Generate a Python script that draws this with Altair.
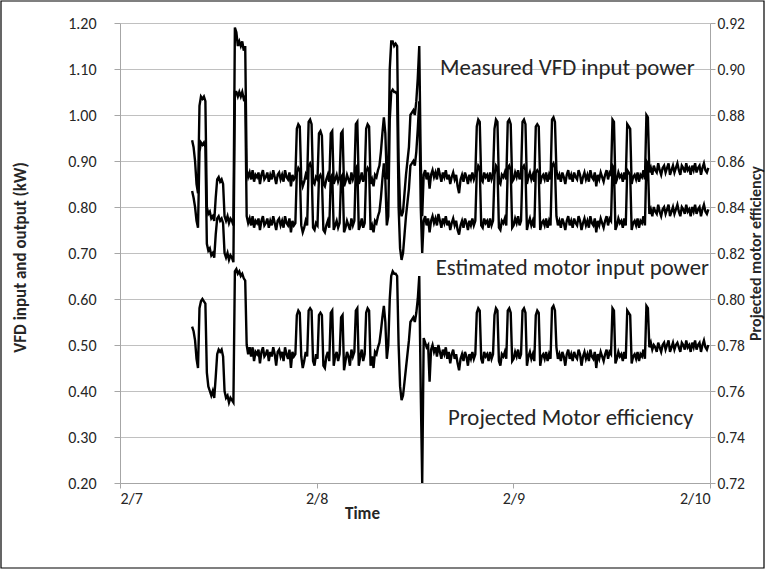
import altair as alt
import pandas as pd

# sampling grid of the logged data (hours after 2/7 00:00)
start_hour = 8.8
step_hour = 0.18

measured = [
    0.945, 0.93, 0.90, 0.85, 0.83, 1.02, 1.04, 1.035, 1.04, 1.03,
    0.80, 0.785, 0.79, 0.775, 0.78, 0.77, 0.82, 0.86, 0.865, 0.855,
    0.86, 0.85, 0.78, 0.77, 0.78, 0.765, 0.775, 0.77, 0.76, 1.19,
    1.18, 1.15, 1.16, 1.15, 1.16, 1.14, 1.15, 0.88, 0.865, 0.875,
    0.86, 0.88, 0.855, 0.87, 0.865, 0.875, 0.85, 0.87, 0.88, 0.86,
    0.865, 0.875, 0.855, 0.87, 0.86, 0.88, 0.865, 0.85, 0.87, 0.875,
    0.86, 0.87, 0.855, 0.88, 0.865, 0.86, 0.875, 0.845, 0.87, 0.86,
    0.865, 0.97, 0.98, 0.975, 0.86, 0.845, 0.855, 0.87, 0.86, 0.985,
    0.99, 0.98, 0.855, 0.85, 0.865, 0.86, 0.96, 0.965, 0.955, 0.85,
    0.845, 0.86, 0.87, 0.855, 0.96, 0.965, 0.85, 0.86, 0.87, 0.855,
    0.865, 0.96, 0.965, 0.845, 0.855, 0.87, 0.86, 0.85, 0.875, 0.86,
    0.87, 0.98, 0.985, 0.85, 0.86, 0.875, 0.855, 0.865, 0.97, 0.98,
    0.975, 0.85, 0.86, 0.845, 0.87, 0.865, 0.88, 0.89, 0.92, 0.96,
    0.995, 0.96, 0.86, 0.88, 1.10, 1.16, 1.16, 1.15, 1.155, 1.15,
    0.90, 0.80, 0.78, 0.79, 0.83, 0.87, 0.90, 0.93, 1.00, 1.005,
    1.01, 1.00, 1.03, 1.08, 1.15, 0.90, 0.78, 0.87, 0.88, 0.86,
    0.875, 0.84, 0.87, 0.88, 0.865, 0.875, 0.86, 0.885, 0.87, 0.855,
    0.875, 0.865, 0.88, 0.86, 0.87, 0.85, 0.865, 0.875, 0.86, 0.87,
    0.845, 0.83, 0.86, 0.87, 0.855, 0.875, 0.865, 0.85, 0.87, 0.86,
    0.875, 0.86, 0.87, 0.975, 0.99, 0.985, 0.86, 0.855, 0.875, 0.865,
    0.87, 0.855, 0.875, 0.86, 0.87, 0.97, 0.99, 0.985, 0.855, 0.85,
    0.87, 0.865, 0.875, 0.86, 0.985, 0.99, 0.98, 0.855, 0.86, 0.875,
    0.865, 0.88, 0.86, 0.87, 0.985, 0.99, 0.98, 0.85, 0.865, 0.875,
    0.86, 0.87, 0.855, 0.975, 0.98, 0.975, 0.85, 0.865, 0.87, 0.86,
    0.875, 0.855, 0.87, 0.86, 0.99, 0.995, 0.985, 0.88, 0.86, 0.87,
    0.855, 0.875, 0.865, 0.85, 0.87, 0.88, 0.86, 0.87, 0.855, 0.875,
    0.865, 0.86, 0.88, 0.87, 0.85, 0.865, 0.875, 0.86, 0.87, 0.855,
    0.88, 0.865, 0.86, 0.875, 0.845, 0.87, 0.86, 0.875, 0.865, 0.855,
    0.87, 0.88, 0.86, 0.875, 0.87, 0.99, 0.985, 0.85, 0.86, 0.875,
    0.865, 0.87, 0.855, 0.875, 0.86, 0.98, 0.975, 0.97, 0.85, 0.865,
    0.87, 0.86, 0.875, 0.855, 0.87, 0.865, 0.88, 0.86, 1.00, 0.995,
    0.875, 0.885, 0.87, 0.89, 0.88, 0.875, 0.895, 0.88, 0.87, 0.885,
    0.89, 0.875, 0.885, 0.895, 0.87, 0.88, 0.89, 0.875, 0.885, 0.895,
    0.88, 0.87, 0.89, 0.885, 0.875, 0.895, 0.88, 0.885, 0.87, 0.89,
    0.88, 0.895, 0.875, 0.885, 0.89, 0.87, 0.885, 0.895, 0.88, 0.875,
    0.885,
]

estimated = [
    0.835, 0.82, 0.80, 0.77, 0.755, 0.92, 0.94, 0.935, 0.94, 0.93,
    0.72, 0.705, 0.71, 0.695, 0.70, 0.69, 0.74, 0.775, 0.78, 0.77,
    0.775, 0.765, 0.70, 0.69, 0.70, 0.685, 0.695, 0.69, 0.68, 1.05,
    1.05, 1.04, 1.05, 1.04, 1.05, 1.035, 1.04, 0.78, 0.765, 0.775,
    0.76, 0.78, 0.755, 0.77, 0.765, 0.775, 0.75, 0.77, 0.78, 0.76,
    0.765, 0.775, 0.755, 0.77, 0.76, 0.78, 0.765, 0.75, 0.77, 0.775,
    0.76, 0.77, 0.755, 0.78, 0.765, 0.76, 0.775, 0.745, 0.77, 0.76,
    0.765, 0.875, 0.885, 0.88, 0.76, 0.745, 0.755, 0.77, 0.76, 0.89,
    0.895, 0.885, 0.755, 0.75, 0.765, 0.76, 0.865, 0.87, 0.86, 0.75,
    0.745, 0.76, 0.77, 0.755, 0.865, 0.87, 0.75, 0.76, 0.77, 0.755,
    0.765, 0.865, 0.87, 0.745, 0.755, 0.77, 0.76, 0.75, 0.775, 0.76,
    0.77, 0.885, 0.89, 0.75, 0.76, 0.775, 0.755, 0.765, 0.875, 0.885,
    0.88, 0.75, 0.76, 0.745, 0.77, 0.765, 0.78, 0.79, 0.82, 0.86,
    0.895, 0.86, 0.76, 0.78, 0.99, 1.05, 1.055, 1.05, 1.05, 1.045,
    0.80, 0.71, 0.685, 0.70, 0.74, 0.78, 0.81, 0.84, 0.89, 0.895,
    0.90, 0.89, 0.92, 0.97, 1.03, 0.80, 0.70, 0.77, 0.78, 0.76,
    0.775, 0.745, 0.77, 0.78, 0.765, 0.775, 0.76, 0.785, 0.77, 0.755,
    0.775, 0.765, 0.78, 0.76, 0.77, 0.75, 0.765, 0.775, 0.76, 0.77,
    0.75, 0.74, 0.76, 0.77, 0.755, 0.775, 0.765, 0.75, 0.77, 0.76,
    0.775, 0.76, 0.77, 0.875, 0.89, 0.885, 0.76, 0.755, 0.775, 0.765,
    0.77, 0.755, 0.775, 0.76, 0.77, 0.87, 0.89, 0.885, 0.755, 0.75,
    0.77, 0.765, 0.775, 0.76, 0.885, 0.89, 0.88, 0.755, 0.76, 0.775,
    0.765, 0.78, 0.76, 0.77, 0.885, 0.89, 0.88, 0.75, 0.765, 0.775,
    0.76, 0.77, 0.755, 0.875, 0.88, 0.875, 0.75, 0.765, 0.77, 0.76,
    0.775, 0.755, 0.77, 0.76, 0.89, 0.895, 0.885, 0.78, 0.76, 0.77,
    0.755, 0.775, 0.765, 0.75, 0.77, 0.78, 0.76, 0.77, 0.755, 0.775,
    0.765, 0.76, 0.78, 0.77, 0.75, 0.765, 0.775, 0.76, 0.77, 0.755,
    0.78, 0.765, 0.76, 0.775, 0.745, 0.77, 0.76, 0.775, 0.765, 0.755,
    0.77, 0.78, 0.76, 0.775, 0.77, 0.89, 0.885, 0.75, 0.76, 0.775,
    0.765, 0.77, 0.755, 0.775, 0.76, 0.88, 0.875, 0.87, 0.75, 0.765,
    0.77, 0.76, 0.775, 0.755, 0.77, 0.765, 0.78, 0.76, 0.90, 0.895,
    0.785, 0.795, 0.78, 0.80, 0.79, 0.785, 0.805, 0.79, 0.78, 0.795,
    0.80, 0.785, 0.795, 0.805, 0.78, 0.79, 0.80, 0.785, 0.795, 0.805,
    0.79, 0.78, 0.80, 0.795, 0.785, 0.805, 0.79, 0.795, 0.78, 0.80,
    0.79, 0.805, 0.785, 0.795, 0.80, 0.78, 0.795, 0.805, 0.79, 0.785,
    0.795,
]

efficiency = [
    0.788, 0.786, 0.782, 0.774, 0.770, 0.796, 0.799, 0.800, 0.799, 0.798,
    0.768, 0.762, 0.760, 0.758, 0.760, 0.757, 0.766, 0.776, 0.778, 0.777,
    0.778, 0.775, 0.760, 0.757, 0.758, 0.755, 0.757, 0.756, 0.755, 0.812,
    0.813, 0.811, 0.812, 0.810, 0.811, 0.809, 0.808, 0.780, 0.776, 0.779,
    0.775, 0.779, 0.773, 0.777, 0.776, 0.778, 0.772, 0.777, 0.779, 0.775,
    0.776, 0.778, 0.773, 0.777, 0.775, 0.779, 0.776, 0.771, 0.777, 0.778,
    0.775, 0.777, 0.773, 0.779, 0.776, 0.774, 0.778, 0.770, 0.777, 0.775,
    0.776, 0.793, 0.795, 0.794, 0.775, 0.770, 0.773, 0.777, 0.775, 0.795,
    0.796, 0.795, 0.773, 0.771, 0.776, 0.774, 0.793, 0.794, 0.793, 0.771,
    0.770, 0.775, 0.777, 0.773, 0.794, 0.795, 0.771, 0.775, 0.777, 0.773,
    0.776, 0.792, 0.793, 0.769, 0.773, 0.777, 0.775, 0.771, 0.778, 0.775,
    0.777, 0.795, 0.796, 0.771, 0.775, 0.778, 0.773, 0.776, 0.794, 0.796,
    0.795, 0.771, 0.775, 0.770, 0.777, 0.776, 0.779, 0.781, 0.786, 0.792,
    0.797, 0.790, 0.774, 0.780, 0.800, 0.810, 0.812, 0.811, 0.811, 0.810,
    0.780, 0.762, 0.756, 0.758, 0.764, 0.770, 0.776, 0.782, 0.790, 0.791,
    0.792, 0.790, 0.794, 0.800, 0.810, 0.760, 0.720, 0.783, 0.781, 0.779,
    0.780, 0.764, 0.778, 0.780, 0.777, 0.779, 0.775, 0.780, 0.777, 0.774,
    0.778, 0.776, 0.779, 0.774, 0.777, 0.772, 0.776, 0.778, 0.774, 0.776,
    0.772, 0.769, 0.774, 0.776, 0.773, 0.777, 0.775, 0.771, 0.776, 0.774,
    0.777, 0.774, 0.776, 0.794, 0.796, 0.795, 0.774, 0.772, 0.777, 0.775,
    0.776, 0.773, 0.777, 0.774, 0.776, 0.793, 0.796, 0.795, 0.773, 0.771,
    0.776, 0.775, 0.777, 0.774, 0.795, 0.796, 0.794, 0.773, 0.774, 0.777,
    0.775, 0.778, 0.774, 0.776, 0.795, 0.796, 0.794, 0.771, 0.775, 0.777,
    0.774, 0.776, 0.773, 0.793, 0.795, 0.794, 0.771, 0.775, 0.776, 0.774,
    0.777, 0.773, 0.776, 0.774, 0.796, 0.797, 0.795, 0.779, 0.774, 0.776,
    0.773, 0.777, 0.775, 0.771, 0.776, 0.778, 0.774, 0.776, 0.773, 0.777,
    0.775, 0.774, 0.778, 0.776, 0.771, 0.775, 0.777, 0.774, 0.776, 0.773,
    0.778, 0.775, 0.774, 0.777, 0.770, 0.776, 0.774, 0.777, 0.775, 0.773,
    0.776, 0.778, 0.774, 0.777, 0.776, 0.796, 0.795, 0.772, 0.774, 0.777,
    0.775, 0.776, 0.773, 0.777, 0.774, 0.795, 0.794, 0.793, 0.772, 0.775,
    0.776, 0.774, 0.777, 0.773, 0.776, 0.775, 0.778, 0.774, 0.797, 0.796,
    0.779, 0.781, 0.778, 0.780, 0.779, 0.777, 0.781, 0.779, 0.777, 0.780,
    0.781, 0.778, 0.780, 0.782, 0.777, 0.779, 0.781, 0.778, 0.780, 0.781,
    0.779, 0.777, 0.781, 0.780, 0.778, 0.782, 0.779, 0.780, 0.777, 0.781,
    0.779, 0.782, 0.778, 0.780, 0.781, 0.777, 0.780, 0.782, 0.779, 0.778,
    0.780,
]

day_ticks = [0, 24, 48, 72]
day_labels = ["2/7", "2/8", "2/9", "2/10"]
left_ticks = [0.2, 0.3, 0.4, 0.5, 0.6, 0.7, 0.8, 0.9, 1.0, 1.1, 1.2]
right_ticks = [0.72, 0.74, 0.76, 0.78, 0.80, 0.82, 0.84, 0.86, 0.88, 0.90, 0.92]
annotations = ["Measured VFD input power", "Estimated motor input power",
               "Projected Motor efficiency"]


def grid(n):
    return [start_hour + i * step_hour for i in range(n)]


power_df = pd.concat([
    pd.DataFrame({"hour": grid(len(measured)), "kw": measured, "series": "Measured"}),
    pd.DataFrame({"hour": grid(len(estimated)), "kw": estimated, "series": "Estimated"}),
])
eff_df = pd.DataFrame({"hour": grid(len(efficiency)), "eff": efficiency})

FONT = "Carlito, Calibri, Lato"
TXT = "#262626"
W, H = 590, 460
label_expr = "[" + ",".join("'%s'" % s for s in day_labels) + "][round(datum.value/24)]"

xenc = alt.X("hour:Q",
             scale=alt.Scale(domain=[0, 72], nice=False, zero=False),
             axis=alt.Axis(values=day_ticks, labelExpr=label_expr, title="Time",
                           grid=False, titleX=242, titleY=30, tickSize=5,
                           labelPadding=2, titleBaseline="middle",
                           titleAlign="center"))

LW = 2.4
power = alt.Chart(power_df).mark_line(color="black", strokeWidth=LW, clip=True).encode(
    x=xenc,
    y=alt.Y("kw:Q",
            scale=alt.Scale(domain=[0.2, 1.2], nice=False, zero=False),
            axis=alt.Axis(values=left_ticks, format=".2f", orient="left",
                          title="VFD input and output (kW)", grid=True,
                          tickSize=6, labelPadding=18,
                          titleX=-100, titleY=234, titleAngle=270,
                          titleBaseline="middle", titleAlign="center")),
    detail="series:N",
)

eff = alt.Chart(eff_df).mark_line(color="black", strokeWidth=LW, clip=True).encode(
    x=xenc,
    y=alt.Y("eff:Q",
            scale=alt.Scale(domain=[0.72, 0.92], nice=False, zero=False),
            axis=alt.Axis(values=right_ticks, format=".2f", orient="right",
                          title="Projected motor efficiency", grid=False,
                          tickSize=5, labelPadding=2, labelFontSize=15.5,
                          titleX=45, titleY=230, titleAngle=270,
                          titleFontSize=16,
                          titleBaseline="middle", titleAlign="center")),
)

ann_df = pd.DataFrame({"t": annotations})
ann_style = dict(baseline="middle", font=FONT, fontSize=22.8, color=TXT)
ann1 = alt.Chart(ann_df.iloc[[0]]).mark_text(align="left", **ann_style).encode(
    x=alt.value(320), y=alt.value(45), text="t:N")
ann2 = alt.Chart(ann_df.iloc[[1]]).mark_text(align="right", **ann_style).encode(
    x=alt.value(589), y=alt.value(245), text="t:N")
ann3 = alt.Chart(ann_df.iloc[[2]]).mark_text(align="left", **ann_style).encode(
    x=alt.value(328), y=alt.value(395), text="t:N")

border = alt.Chart(pd.DataFrame({"a": [0]})).mark_rect(
    filled=False, stroke="black", strokeWidth=1.2).encode(
    x=alt.value(-119), x2=alt.value(W + 54),
    y=alt.value(-22), y2=alt.value(H + 85))

chart = alt.layer(power, eff, ann1, ann2, ann3, border).resolve_scale(
    y="independent"
).properties(
    width=W, height=H,
    autosize=alt.AutoSizeParams(type="none"),
    padding={"left": 120, "top": 23, "right": 56, "bottom": 88},
).configure_view(stroke=None).configure_axis(
    labelFont=FONT, titleFont=FONT, labelFontSize=16, titleFontSize=17,
    labelColor=TXT, titleColor=TXT, titleFontWeight="bold",
    domainColor="#a6a6a6", tickColor="#a6a6a6", gridColor="#c0c0c0",
    domainWidth=1, gridWidth=1,
)

chart.save("out.html", embed_options={"renderer": "svg", "actions": False})
